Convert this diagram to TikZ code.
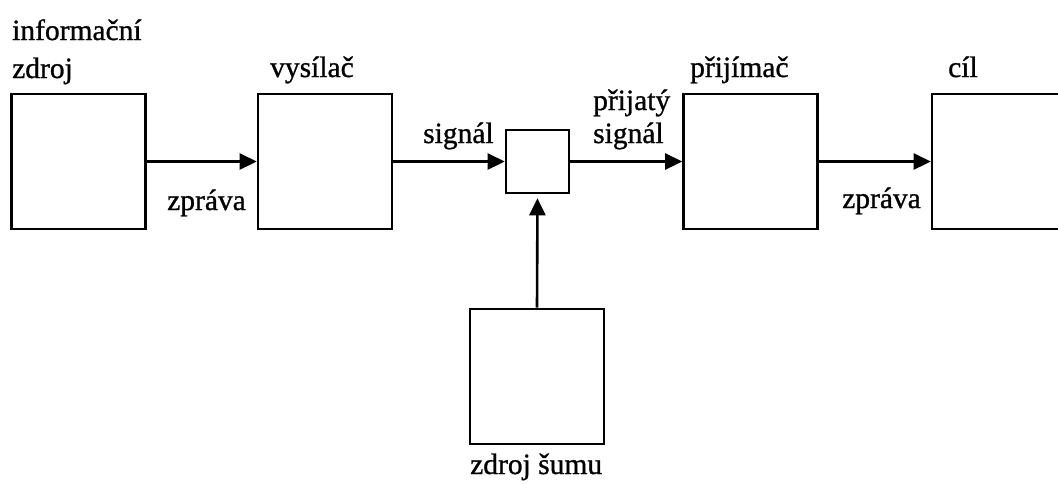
\documentclass[tikz,border=0pt]{standalone}
\usepackage{fontspec}
\setmainfont{Liberation Serif}
\newfontfamily\heavyserif{Liberation Serif}[FakeBold=0.9]
\usetikzlibrary{arrows.meta}
\begin{document}
\begin{tikzpicture}[x=1pt,y=-1pt,
  blk/.style={draw,line width=2.6pt,inner sep=0pt,minimum width=134pt,minimum height=135pt},
  smallblk/.style={draw,line width=2.6pt,inner sep=0pt,minimum width=63pt,minimum height=63pt},
  lbl/.style={anchor=base west,inner sep=0pt,font=\heavyserif\fontsize{29.5}{34}\selectfont},
  conn/.style={line width=2.6pt,-{Triangle[length=17pt,width=16pt]}}]
\useasboundingbox (0,0) rectangle (1058,483);
\node[blk] (src) at (78.5,161.5) {};
\node[blk] (tx) at (325,161.5) {};
\node[smallblk] (sum) at (537.5,161.5) {};
\node[blk] (rx) at (750.5,161.5) {};
\node[blk,minimum width=160pt] (dst) at (1012,161.5) {};
\node[blk] (noise) at (537,376.5) {};
\draw[conn] (src) -- (tx);
\draw[conn] (tx) -- (sum);
\draw[conn] (sum) -- (rx);
\draw[conn] (rx) -- (dst);
\draw[conn,shorten >=4pt] (noise.north) -- (sum.south);
\node[lbl] (l1) at (12,40) {informační};
\node[lbl] (l2) at (12,78) {zdroj};
\node[lbl] (l3) at (270,77) {vysílač};
\node[lbl] (l4) at (167,210) {zpráva};
\node[lbl] (l5) at (423,143) {signál};
\node[lbl] (l6) at (593,110) {přijatý};
\node[lbl] (l7) at (593,143) {signál};
\node[lbl] (l8) at (690,77) {přijímač};
\node[lbl] (l9) at (948,77) {cíl};
\node[lbl] (l10) at (842,208) {zpráva};
\node[lbl] (l11) at (470,474) {zdroj šumu};
\end{tikzpicture}
\end{document}
